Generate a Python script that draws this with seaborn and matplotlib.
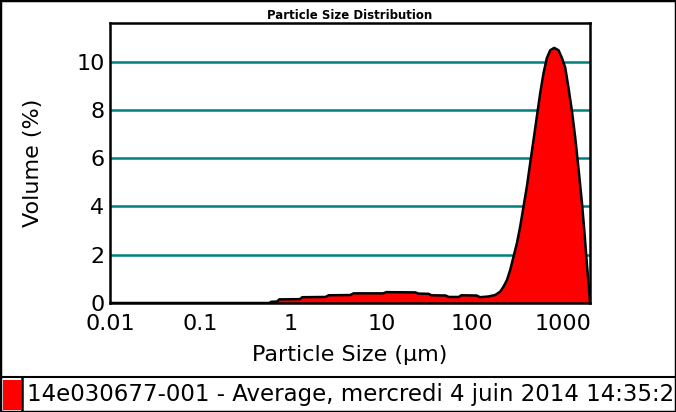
import numpy as np
import matplotlib
matplotlib.use('Agg')
import matplotlib.pyplot as plt
import seaborn as sns
from matplotlib.patches import Rectangle
from matplotlib.lines import Line2D

# particle size distribution (size in um, volume in %)
sizes_um = [0.01, 0.58, 0.60, 0.70, 0.74, 1.25, 1.33, 2.4, 2.6, 4.5, 4.9, 10.4, 11.3,
            23.5, 25.5, 33, 35.5, 51, 55, 71, 76, 112, 122, 151, 179, 204, 222, 242,
            263, 286, 312, 339, 369, 402, 437, 476, 518, 564, 614, 668, 727, 805, 899,
            980, 1066, 1159, 1264, 1374, 1495, 1630, 1740, 1849, 1950, 2000]
volume_pct = [0, 0, 0.05, 0.06, 0.15, 0.16, 0.24, 0.25, 0.32, 0.33, 0.40, 0.40, 0.45,
              0.44, 0.39, 0.38, 0.32, 0.31, 0.25, 0.25, 0.32, 0.31, 0.24, 0.27, 0.33,
              0.47, 0.68, 0.95, 1.37, 1.92, 2.48, 3.17, 4.0, 4.83, 5.8, 6.76, 7.73, 8.7,
              9.53, 10.15, 10.47, 10.57, 10.47, 10.15, 9.75, 8.9, 7.95, 6.85, 5.55, 4.15,
              2.9, 1.6, 0.6, 0]

x_ticks = [0.01, 0.1, 1, 10, 100, 1000]
x_tick_labels = ['0.01', '0.1', '1', '10', '100', '1000']
y_ticks = [0, 2, 4, 6, 8, 10]

title = 'Particle Size Distribution'
legend_label = '14e030677-001 - Average, mercredi 4 juin 2014 14:35:2'

sns.set_theme(style='white')
plt.rcParams['font.family'] = ['DejaVu Sans']

fig = plt.figure(figsize=(6.76, 4.12), dpi=100)
ax = fig.add_axes([110/676, 1 - 303/412, 480/676, 280/412])

ax.set_xscale('log')
ax.set_xlim(0.01, 2000)
ax.set_ylim(0, 11.6)

# teal horizontal grid, under the fill
for yv in y_ticks[1:]:
    ax.axhline(yv, color='#008080', lw=1.8, zorder=0)

ax.fill_between(sizes_um, volume_pct, 0, color='#ff0000', lw=0, zorder=2)
sns.lineplot(x=sizes_um, y=volume_pct, ax=ax, color='black', lw=1.8, sort=False,
             estimator=None, zorder=3)

ax.set_xticks(x_ticks)
ax.set_xticklabels(x_tick_labels)
ax.xaxis.set_minor_locator(matplotlib.ticker.NullLocator())
ax.set_yticks(y_ticks)
ax.tick_params(axis='both', length=0, labelsize=16, colors='black')
ax.tick_params(axis='x', pad=8)
ax.tick_params(axis='y', pad=4)

for s in ax.spines.values():
    s.set_color('black')
    s.set_linewidth(1.8)
    s.set_zorder(4)

ax.set_xlabel('Particle Size (\u00b5m)', fontsize=16, color='black', labelpad=8)
ax.set_ylabel('Volume (%)', fontsize=16, color='black', labelpad=24)
ax.set_title(title, fontsize=8.5, fontweight='bold', color='black', pad=3)

# legend strip at the bottom
fig.add_artist(Line2D([0, 1], [1 - 377/412, 1 - 377/412], color='black', lw=1.5,
                      transform=fig.transFigure))
fig.add_artist(Rectangle((3/676, 1 - 410/412), 18/676, 30/412, facecolor='#ff0000',
                         edgecolor='none', transform=fig.transFigure))
fig.add_artist(Line2D([22/676, 22/676], [0, 1 - 377/412], color='black', lw=1.8,
                      transform=fig.transFigure))
fig.text(27/676, 1 - 394/412, legend_label, fontsize=16.5, color='black', va='center',
         ha='left')

fig.add_artist(Rectangle((0, 0), 1, 1, fill=False, edgecolor='black', lw=2.5,
                         transform=fig.transFigure))

fig.savefig('out.png', dpi=100)
